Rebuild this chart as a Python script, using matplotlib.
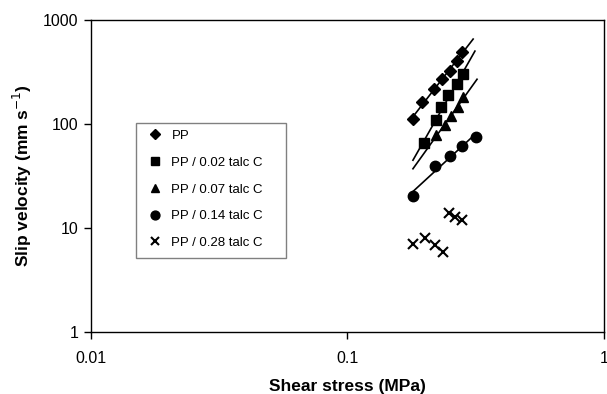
import matplotlib.pyplot as plt
from matplotlib.patches import Rectangle
import numpy as np

plt.rcParams['font.family'] = ['Liberation Sans', 'DejaVu Sans']

# data (shear stress in MPa, slip velocity in mm/s)
pp_x = [0.18, 0.196, 0.217, 0.234, 0.251, 0.267, 0.279]
pp_y = [112, 164, 217, 269, 325, 404, 489]

t02_x = [0.199, 0.221, 0.232, 0.247, 0.267, 0.283]
t02_y = [65, 109, 146, 190, 242, 303]

t07_x = [0.222, 0.239, 0.253, 0.270, 0.283]
t07_y = [78, 97, 119, 146, 182]

t14_x = [0.18, 0.219, 0.251, 0.279, 0.317]
t14_y = [20.4, 39.5, 49.2, 61.4, 75.5]

t28_x = [0.18, 0.2, 0.219, 0.236, 0.249, 0.262, 0.279]
t28_y = [7, 8, 6.9, 5.9, 13.8, 12.8, 11.9]

labels = ["PP", "PP / 0.02 talc C", "PP / 0.07 talc C",
          "PP / 0.14 talc C", "PP / 0.28 talc C"]

# power-law trendline ranges (x start, x end)
fit_ranges = [(0.18, 0.309), (0.18, 0.314), (0.18, 0.32), (0.18, 0.317)]

fig = plt.figure(figsize=(6.07, 3.94), dpi=100)
ax = fig.add_axes([0.1499, 0.1574, 0.8451, 0.7918])

ax.plot(pp_x, pp_y, 'D', color='black', markersize=6.3, label=labels[0])
ax.plot(t02_x, t02_y, 's', color='black', markersize=6.5, label=labels[1])
ax.plot(t07_x, t07_y, '^', color='black', markersize=7.5, label=labels[2])
ax.plot(t14_x, t14_y, 'o', color='black', markersize=7.5, label=labels[3])
ax.plot(t28_x, t28_y, 'x', color='black', markersize=6.5, markeredgewidth=1.5,
        label=labels[4])

# fitted power-law lines like the Excel trendlines
series = [(pp_x, pp_y), (t02_x, t02_y), (t07_x, t07_y), (t14_x, t14_y)]
for (xs, ys), (x0, x1) in zip(series, fit_ranges):
    k, b = np.polyfit(np.log10(xs), np.log10(ys), 1)
    xf = np.array([x0, x1])
    ax.plot(xf, 10 ** (k * np.log10(xf) + b), color='black', linewidth=1.2)

ax.set_xscale('log')
ax.set_yscale('log')
ax.set_xlim(0.01, 1)
ax.set_ylim(1, 1000)
ax.set_xticks([0.01, 0.1, 1])
ax.set_xticklabels(["0.01", "0.1", "1"])
ax.set_yticks([1, 10, 100, 1000])
ax.set_yticklabels(["1", "10", "100", "1000"])
ax.minorticks_off()
ax.tick_params(direction='out', length=5, width=1, labelsize=11.5)
ax.tick_params(axis='x', pad=9)
ax.tick_params(axis='y', pad=4)

for s in ax.spines.values():
    s.set_linewidth(1.0)
    s.set_color('black')

ax.set_xlabel("Shear stress (MPa)", fontsize=12.5, fontweight='bold')
ax.xaxis.set_label_coords(0.5, -0.152)
ax.set_ylabel("Slip velocity (mm s$^{-1}$)", fontsize=12.5, fontweight='bold')
ax.yaxis.set_label_coords(-0.112, 0.5)

# legend without its own frame, box drawn separately
leg = ax.legend(loc='upper left', bbox_to_anchor=(0.1119, 0.648), fontsize=9.5,
                frameon=False, borderaxespad=0, borderpad=0, markerscale=0.85,
                labelspacing=1.1, handletextpad=0.75, handlelength=1.0)
ax.add_patch(Rectangle((0.0884, 0.2362), 0.2924, 0.4327, transform=ax.transAxes,
                       fill=False, edgecolor='#808080', linewidth=1.0))

fig.savefig("out.png", dpi=100)
